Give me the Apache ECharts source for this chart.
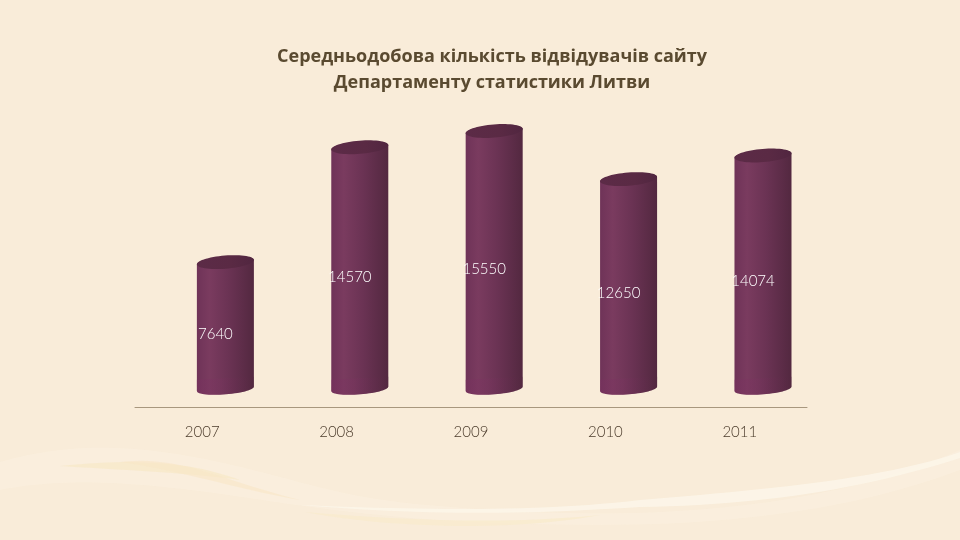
<!DOCTYPE html>
<html><head><meta charset="utf-8">
<style>html,body{margin:0;padding:0;background:#f9ecd9}#c{width:960px;height:540px}</style>
<script src="https://cdn.jsdelivr.net/npm/echarts@6/dist/echarts.min.js"></script>
</head><body><div id="c"></div>
<script>
const years = ['2007','2008','2009','2010','2011'];
const visitors = [7640,14570,15550,12650,14074];
const titleText = 'Середньодобова кількість відвідувачів сайту\nДепартаменту статистики Литви';

const chart = echarts.init(document.getElementById('c'));
function ell(cx,cy,rx,ry,rot,a0,a1,n){
  const p=[];
  for(let i=0;i<=n;i++){
    const t=a0+(a1-a0)*i/n, x=rx*Math.cos(t), y=ry*Math.sin(t);
    p.push([cx+x*Math.cos(rot)-y*Math.sin(rot), cy+x*Math.sin(rot)+y*Math.cos(rot)]);
  }
  return p;
}
function renderCyl(params, api){
  const i=api.value(0), v=api.value(1);
  const band=api.size([1,0])[0];
  const top=api.coord([i,v]), base=api.coord([i,0]);
  const cx=top[0]+band*0.1725, rx=28.6, ry=5.6, rot=-0.08;
  const body=ell(cx,base[1],rx,ry,rot,Math.PI,0,30).concat(ell(cx,top[1],rx,ry,rot,0,-Math.PI,30));
  const grad=new echarts.graphic.LinearGradient(0,0,1,0,[
    {offset:0,color:'#6f3358'},{offset:.22,color:'#7a3b5f'},{offset:.55,color:'#6b3354'},{offset:1,color:'#532840'}]);
  const lid=new echarts.graphic.LinearGradient(0,0,1,0,[
    {offset:0,color:'#5c2b47'},{offset:.6,color:'#5a2a44'},{offset:1,color:'#512640'}]);
  const foot=new echarts.graphic.LinearGradient(0,0,1,0,[
    {offset:0,color:'#7d2f62'},{offset:.4,color:'#7a3460'},{offset:1,color:'#532840'}]);
  const footPts=ell(cx,base[1],rx,ry,rot,Math.PI,0,30).concat([[cx+rx,base[1]-12],[cx-rx,base[1]-9]]);
  return {type:'group',children:[
    {type:'polygon',shape:{points:body},style:{fill:grad}},
    {type:'polygon',shape:{points:footPts},style:{fill:foot,opacity:.35}},
    {type:'polygon',shape:{points:ell(cx,top[1],rx,ry+1,rot,0,Math.PI*2,60)},style:{fill:lid}},
    {type:'text',x:cx-10,y:(top[1]+base[1])/2+9,style:{text:String(visitors[i]),fill:'#ffffff',font:'300 15px Lato, "Open Sans", sans-serif',align:'center',verticalAlign:'middle'}}
  ]};
}
function curve(segs){
  const pts=[]; 
  segs.forEach(s=>{ for(let k=0;k<=24;k++){ const t=k/24,u=1-t;
    pts.push([u*u*u*s[0]+3*u*u*t*s[2]+3*u*t*t*s[4]+t*t*t*s[6], u*u*u*s[1]+3*u*u*t*s[3]+3*u*t*t*s[5]+t*t*t*s[7]]);}});
  return pts;
}
const swoosh=(segs,fill,o)=>({type:'polygon',silent:true,shape:{points:curve(segs)},style:{fill,opacity:o}});
chart.setOption({
  backgroundColor:'#f9ecd9',
  animation:false,
  graphic:[
    swoosh([[0,462,70,442,130,445,200,458],[200,458,300,478,330,498,440,506],[440,506,600,520,800,520,960,450],[960,470,800,530,620,530,440,520],[440,520,320,512,260,498,190,490],[190,490,110,480,50,480,0,490]],'#fbf1e0',.55),
    swoosh([[60,466,140,458,190,462,240,480],[240,480,180,472,120,470,60,466]],'#f8e8c9',.8),
    swoosh([[120,462,180,455,220,480,300,500],[300,500,240,490,180,470,120,462]],'#f8e6c6',.6),
    swoosh([[305,512,400,520,500,525,600,515],[600,515,520,530,400,530,305,512]],'#f8ebce',.9),
    swoosh([[300,505,420,510,540,512,640,500],[640,500,760,490,880,480,960,452],[960,458,860,490,760,505,640,507],[640,507,520,515,420,515,300,505]],'#fcf5e8',.9)
  ],
  title:{text:titleText,left:487,top:39,textAlign:'center',
    textStyle:{fontFamily:'"Open Sans", sans-serif',fontSize:18,fontWeight:'bold',color:'#5a4a30',lineHeight:26}},
  grid:{left:135,right:153,top:107,bottom:133},
  xAxis:{type:'category',data:years,
    axisLine:{onZero:false,lineStyle:{color:'#a8977e',width:1}},axisTick:{show:false},
    axisLabel:{margin:18,fontFamily:'Lato, "Open Sans", sans-serif',fontWeight:300,fontSize:15,color:'#4a3a2a'}},
  yAxis:{type:'value',min:-1100,max:17000,show:false,splitLine:{show:false}},
  series:[{type:'custom',data:visitors.map((v,i)=>[i,v]),encode:{x:0,y:1},renderItem:renderCyl,clip:false}]
});
</script></body></html>
